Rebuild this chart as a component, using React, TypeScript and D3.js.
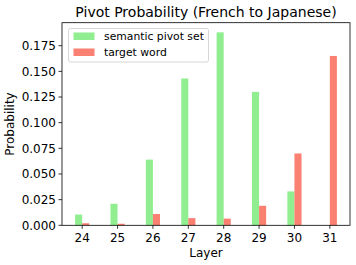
import React from "react";
import * as d3 from "d3";

const layers = [24, 25, 26, 27, 28, 29, 30, 31];
const pivotSet = [0.0105, 0.021, 0.064, 0.143, 0.188, 0.13, 0.033, 0];
const targetWord = [0.002, 0.0015, 0.011, 0.007, 0.0065, 0.019, 0.07, 0.165];
const yTicks = [0, 0.025, 0.05, 0.075, 0.1, 0.125, 0.15, 0.175];

const W = 356;
const H = 265;
const left = 62;
const right = 350;
const top = 22.7;
const bottom = 225.3;
const barW = 0.2;
const font = "DejaVu Sans, sans-serif";

export default function App() {
  const x = d3.scaleLinear().domain([23.43, 31.57]).range([left, right]);
  const y = d3.scaleLinear().domain([0, 0.1974]).range([bottom, top]);
  const fmt = d3.format(".3f");

  return (
    <svg width={W} height={H} style={{ position: "absolute", left: 0, top: 0 }} fontFamily={font}>
      <rect width={W} height={H} fill="#fff" />
      <text x={(left + right) / 2} y={17} textAnchor="middle" fontSize={14} fill="#000">
        Pivot Probability (French to Japanese)
      </text>
      {layers.map((l, i) => (
        <g key={l}>
          <rect
            x={x(l - barW)}
            y={y(pivotSet[i])}
            width={x(l) - x(l - barW)}
            height={bottom - y(pivotSet[i])}
            fill="#90ee90"
          />
          <rect
            x={x(l)}
            y={y(targetWord[i])}
            width={x(l + barW) - x(l)}
            height={bottom - y(targetWord[i])}
            fill="#fa8072"
          />
        </g>
      ))}
      <rect x={left} y={top} width={right - left} height={bottom - top} fill="none" stroke="#000" strokeWidth={0.8} />
      {yTicks.map((t) => (
        <g key={t}>
          <line x1={left - 3.5} x2={left} y1={y(t)} y2={y(t)} stroke="#000" strokeWidth={0.8} />
          <text x={left - 6} y={y(t) + 4.3} textAnchor="end" fontSize={12} fill="#000">
            {fmt(t)}
          </text>
        </g>
      ))}
      {layers.map((l) => (
        <g key={"t" + l}>
          <line x1={x(l)} x2={x(l)} y1={bottom} y2={bottom + 3.5} stroke="#000" strokeWidth={0.8} />
          <text x={x(l)} y={bottom + 17} textAnchor="middle" fontSize={12} fill="#000">
            {l}
          </text>
        </g>
      ))}
      <text x={(left + right) / 2} y={257} textAnchor="middle" fontSize={12} fill="#000">
        Layer
      </text>
      <text
        transform={`translate(14,${(top + bottom) / 2}) rotate(-90)`}
        textAnchor="middle"
        fontSize={12}
        fill="#000"
      >
        Probability
      </text>
      <g transform="translate(68.5,28.5)">
        <rect width={140} height={33.5} rx={2} fill="#fff" fillOpacity={0.8} stroke="#ccc" strokeWidth={0.8} />
        <rect x={5} y={4} width={21} height={7.5} fill="#90ee90" />
        <text x={35.5} y={11.8} fontSize={10.8} fill="#000">semantic pivot set</text>
        <rect x={5} y={20} width={21} height={7.5} fill="#fa8072" />
        <text x={35.5} y={27.8} fontSize={10.8} fill="#000">target word</text>
      </g>
    </svg>
  );
}
